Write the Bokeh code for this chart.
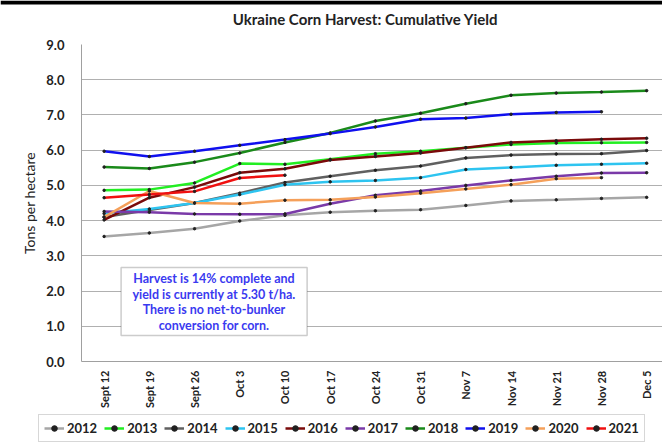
from bokeh.plotting import figure
from bokeh.models import (Range1d, FixedTicker, Legend, LegendItem, Label, BoxAnnotation)
from bokeh.layouts import column
from bokeh.embed import file_html
from bokeh.resources import INLINE
import math

weeks = ["Sept 12", "Sept 19", "Sept 26", "Oct 3", "Oct 10", "Oct 17", "Oct 24",
         "Oct 31", "Nov 7", "Nov 14", "Nov 21", "Nov 28", "Dec 5"]

y2012 = [3.55, 3.65, 3.77, 3.99, 4.15, 4.24, 4.28, 4.31, 4.43, 4.56, 4.59, 4.63, 4.66]
y2013 = [4.86, 4.88, 5.07, 5.62, 5.60, 5.74, 5.90, 5.97, 6.07, 6.16, 6.20, 6.21, 6.22]
y2014 = [4.10, 4.30, 4.50, 4.78, 5.08, 5.26, 5.43, 5.55, 5.78, 5.86, 5.89, 5.90, 5.99]
y2015 = [4.20, 4.33, 4.50, 4.74, 5.02, 5.10, 5.14, 5.22, 5.45, 5.51, 5.57, 5.60, 5.63]
y2016 = [4.02, 4.65, 4.95, 5.36, 5.47, 5.72, 5.82, 5.92, 6.07, 6.22, 6.27, 6.31, 6.34]
y2017 = [4.26, 4.24, 4.19, 4.18, 4.19, 4.48, 4.72, 4.84, 5.00, 5.14, 5.26, 5.35, 5.36]
y2018 = [5.52, 5.48, 5.66, 5.92, 6.22, 6.49, 6.83, 7.05, 7.32, 7.56, 7.62, 7.65, 7.69]
y2019 = [5.97, 5.82, 5.97, 6.14, 6.30, 6.47, 6.66, 6.88, 6.91, 7.02, 7.07, 7.09]
y2020 = [4.10, 4.84, 4.50, 4.48, 4.58, 4.59, 4.67, 4.78, 4.90, 5.02, 5.19, 5.22]
y2021 = [4.65, 4.74, 4.83, 5.21, 5.29]

series = [
    ("2012", y2012, "#a6a6a6"),
    ("2013", y2013, "#22ee22"),
    ("2014", y2014, "#606060"),
    ("2015", y2015, "#2ec4f0"),
    ("2016", y2016, "#7a0a0a"),
    ("2017", y2017, "#7a3aa8"),
    ("2018", y2018, "#1a8a1a"),
    ("2019", y2019, "#1010ee"),
    ("2020", y2020, "#f5a05a"),
    ("2021", y2021, "#f01010"),
]

FONT = "Lato"
TITLE = "Ukraine Corn Harvest: Cumulative Yield"


def no_align(fig):
    try:
        fig.frame_align = False
    except Exception:
        pass


# header strip: black bar at the very top and the title
head = figure(width=662, height=32, output_backend="svg", toolbar_location=None,
              min_border=0, x_axis_type=None, y_axis_type=None,
              x_range=Range1d(0, 662), y_range=Range1d(0, 32))
head.outline_line_color = None
head.grid.visible = False
head.border_fill_color = "white"
no_align(head)
head.add_layout(BoxAnnotation(left=0, right=662, bottom=28, top=32,
                              fill_color="black", fill_alpha=1.0, line_color=None))
head.add_layout(Label(x=365, y=14, text=TITLE, text_align="center",
                      text_baseline="middle", text_font=FONT,
                      text_font_style="bold", text_font_size="15px",
                      text_color="#222222"))

p = figure(width=662, height=379, output_backend="svg", toolbar_location=None,
           x_range=Range1d(-0.5, 12.35), y_range=Range1d(0, 9),
           min_border_left=81, min_border_right=0, min_border_top=12,
           min_border_bottom=50)
p.outline_line_color = None
p.background_fill_color = "white"
p.border_fill_color = "white"
no_align(p)

p.xgrid.grid_line_color = None
p.ygrid.grid_line_color = "#b0b0b0"
p.ygrid.grid_line_width = 1
p.yaxis.ticker = FixedTicker(ticks=list(range(0, 10)))
p.yaxis.major_label_overrides = {i: f"{i:.1f}" for i in range(0, 10)}
p.xaxis.ticker = FixedTicker(ticks=list(range(len(weeks))))
p.xaxis.major_label_overrides = {i: w for i, w in enumerate(weeks)}
p.xaxis.major_label_orientation = math.pi / 2

for ax in (p.xaxis[0], p.yaxis[0]):
    ax.axis_line_color = "#a0a0a0"
    ax.major_tick_line_color = None
    ax.minor_tick_line_color = None
    ax.major_label_text_font = FONT
    ax.major_label_text_font_style = "bold"
    ax.major_label_text_color = "#222222"

p.yaxis.major_label_text_font_size = "13px"
p.xaxis.major_label_text_font_size = "11px"
p.yaxis.major_label_standoff = 11
p.xaxis.major_label_standoff = 3
p.yaxis.axis_label = "Tons per hectare"
p.yaxis.axis_label_text_font = FONT
p.yaxis.axis_label_text_font_style = "normal"
p.yaxis.axis_label_text_font_size = "14px"
p.yaxis.axis_label_standoff = 5
p.yaxis.axis_label_text_color = "#222222"

# legend strip
leg = figure(width=662, height=34, output_backend="svg", toolbar_location=None,
             min_border=0, x_axis_type=None, y_axis_type=None,
             x_range=Range1d(0, 1), y_range=Range1d(0, 1))
leg.outline_line_color = None
leg.grid.visible = False
leg.border_fill_color = "white"
no_align(leg)

items = []
for name, ys, col in series:
    xs = list(range(len(ys)))
    p.line(xs, ys, line_color=col, line_width=2.5)
    p.scatter(xs, ys, size=2.5, color="#202020", marker="circle")
    # proxy renderers (kept off-range) so the legend strip can show the keys
    l1 = leg.line([-5, -4], [-5, -5], line_color=col, line_width=2.5)
    l2 = leg.scatter([-5], [-5], size=2.5, color="#202020", marker="circle")
    items.append(LegendItem(label=name, renderers=[l1, l2]))

legend = Legend(items=items, orientation="horizontal", location=(38, 3),
                label_text_font=FONT, label_text_font_style="bold",
                label_text_font_size="13px", label_text_color="#222222",
                glyph_width=20, glyph_height=14, label_standoff=3, spacing=7,
                padding=5, margin=0, border_line_color="#b0b0b0",
                background_fill_alpha=1.0)
leg.add_layout(legend, "center")

# annotation box
box = BoxAnnotation(left=0.376, right=4.49, bottom=0.74, top=2.67,
                    fill_color="white", fill_alpha=1.0,
                    line_color="#555555", line_width=1.5)
p.add_layout(box)
lines = ["Harvest is 14% complete and", "yield is currently at 5.30 t/ha.",
         "There is no net-to-bunker", "conversion for corn."]
for i, t in enumerate(lines):
    p.add_layout(Label(x=2.43, y=2.36 - i * 0.445, text=t, text_align="center",
                       text_baseline="middle", text_font=FONT,
                       text_font_style="bold", text_font_size="12.5px",
                       text_color="#3a3af0"))

layout = column(head, p, leg, spacing=0)
open("out.html", "w").write(file_html(layout, INLINE))
